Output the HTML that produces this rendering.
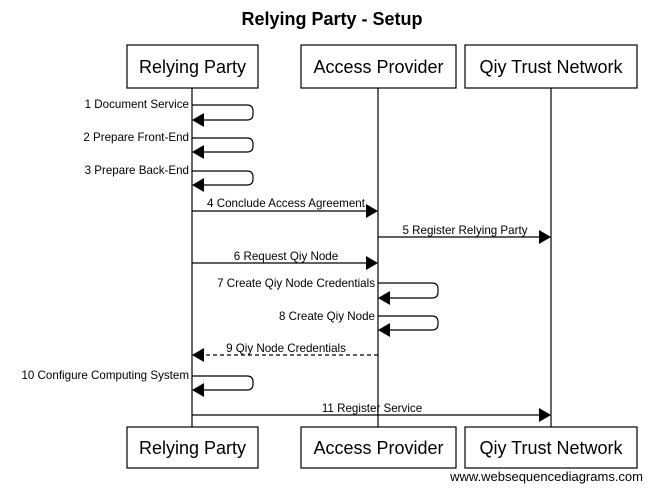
<!DOCTYPE html>
<html><head><style>body{margin:0;background:#fff}</style></head><body>
<svg width="665" height="488" viewBox="0 0 665 488" xmlns="http://www.w3.org/2000/svg" font-family="Liberation Sans, Arial, sans-serif">
<text x="332" y="25" text-anchor="middle" font-size="18" font-weight="bold">Relying Party - Setup</text>
<g stroke="#000" stroke-width="1.2">
<line x1="192" y1="88" x2="192" y2="427"/>
<line x1="378" y1="88" x2="378" y2="427"/>
<line x1="551" y1="88" x2="551" y2="427"/>
</g>
<g fill="#fff" stroke="#000" stroke-width="1.2">
<rect x="127" y="45" width="131" height="43"/><rect x="301" y="45" width="155" height="43"/><rect x="465" y="45" width="172" height="43"/>
<rect x="127" y="427" width="131" height="41"/><rect x="301" y="427" width="155" height="41"/><rect x="465" y="427" width="172" height="41"/>
</g>
<g font-size="18" text-anchor="middle">
<text x="192.5" y="73">Relying Party</text><text x="378.5" y="73">Access Provider</text><text x="551" y="73">Qiy Trust Network</text>
<text x="192.5" y="454">Relying Party</text><text x="378.5" y="454">Access Provider</text><text x="551" y="454">Qiy Trust Network</text>
</g>
<g fill="none" stroke="#000" stroke-width="1.2">
<path d="M192 105 H247 Q253 105 253 111 V114 Q253 120 247 120 H203"/>
<path d="M192 138 H247 Q253 138 253 144 V146 Q253 152 247 152 H203"/>
<path d="M192 171 H247 Q253 171 253 177 V179 Q253 185 247 185 H203"/>
<path d="M378 283 H432 Q438 283 438 289 V292 Q438 298 432 298 H389"/>
<path d="M378 316 H432 Q438 316 438 322 V324 Q438 330 432 330 H389"/>
<path d="M192 376 H247 Q253 376 253 382 V384 Q253 390 247 390 H203"/>
<line x1="192" y1="211" x2="367" y2="211"/>
<line x1="378" y1="237" x2="540" y2="237"/>
<line x1="192" y1="263" x2="367" y2="263"/>
<line x1="378" y1="355" x2="203" y2="355" stroke-dasharray="4,3"/>
<line x1="192" y1="415" x2="540" y2="415"/>
</g>
<g fill="#000">
<polygon points="192,120 204,113 204,127"/><polygon points="192,152 204,145 204,159"/><polygon points="192,185 204,178 204,192"/>
<polygon points="378,298 390,291 390,305"/><polygon points="378,330 390,323 390,337"/><polygon points="192,390 204,383 204,397"/>
<polygon points="378,211 366,204 366,218"/><polygon points="551,237 539,230 539,244"/><polygon points="378,263 366,256 366,270"/>
<polygon points="192,355 204,348 204,362"/><polygon points="551,415 539,408 539,422"/>
</g>
<g font-size="11.6">
<g text-anchor="end">
<text x="189" y="108">1 Document Service</text><text x="189" y="141">2 Prepare Front-End</text><text x="189" y="174">3 Prepare Back-End</text>
<text x="375" y="287">7 Create Qiy Node Credentials</text><text x="375" y="320">8 Create Qiy Node</text><text x="189" y="379">10 Configure Computing System</text>
</g>
<g text-anchor="middle">
<text x="286" y="207">4 Conclude Access Agreement</text><text x="465" y="234">5 Register Relying Party</text><text x="286" y="260">6 Request Qiy Node</text>
<text x="286" y="352">9 Qiy Node Credentials</text><text x="372" y="412">11 Register Service</text>
</g>
</g>
<text x="643" y="481" text-anchor="end" font-size="13" font-family="Liberation Sans, Arial, sans-serif">www.websequencediagrams.com</text>
</svg>
</body></html>
